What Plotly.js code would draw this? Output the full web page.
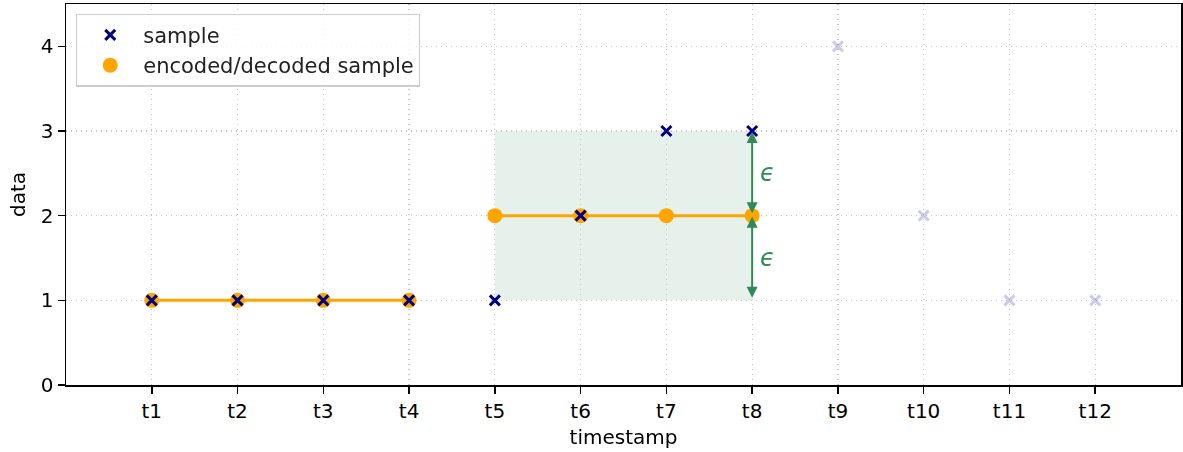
<!DOCTYPE html>
<html>
<head>
<meta charset="utf-8">
<script src="https://cdn.plot.ly/plotly-3.0.1.min.js"></script>
<style>html,body{margin:0;padding:0;background:#fff;}#chart{width:1183px;height:452px;}</style>
</head>
<body>
<div id="chart"></div>
<script>
const tickPositions = [1,2,3,4,5,6,7,8,9,10,11,12];
const tickLabels = ["t1","t2","t3","t4","t5","t6","t7","t8","t9","t10","t11","t12"];

const sampleX = [1,2,3,4,5,6,7,8];
const sampleY = [1,1,1,1,1,2,3,3];

const futureX = [9,10,11,12];
const futureY = [4,2,1,1];

const encodedX = [1,2,3,4,5,6,7,8];
const encodedY = [1,1,1,1,2,2,2,2];

const lineX = [1,2,3,4,null,5,6,7,8];
const lineY = [1,1,1,1,null,2,2,2,2];

const windowX = [5,8];
const windowY = [1,3];
const epsilonAt = 8;
const epsilonLevels = [3,2,1];

const font = "DejaVu Sans, sans-serif";
const green = "#2e8b57";

const traces = [
  {x: lineX, y: lineY, mode: "lines", line: {color: "orange", width: 3}, showlegend: false, hoverinfo: "skip", connectgaps: false},
  {x: encodedX, y: encodedY, mode: "markers", name: "encoded/decoded sample", legendrank: 2, legendgroup: "b",
   marker: {symbol: "circle", color: "orange", size: 15}},
  {x: sampleX, y: sampleY, mode: "markers", name: "sample", legendrank: 1, legendgroup: "a",
   marker: {symbol: "x-thin", color: "navy", size: 10, line: {color: "navy", width: 3}}},
  {x: futureX, y: futureY, mode: "markers", showlegend: false, opacity: 0.2,
   marker: {symbol: "x-thin", color: "navy", size: 10, line: {color: "navy", width: 3}}}
];

const annotations = [];
for (let i = 0; i < epsilonLevels.length - 1; i++) {
  annotations.push({
    x: epsilonAt, y: epsilonLevels[i], ax: epsilonAt, ay: epsilonLevels[i+1],
    xref: "x", yref: "y", axref: "x", ayref: "y",
    showarrow: true, arrowhead: 2, startarrowhead: 2, arrowside: "end+start",
    arrowsize: 1.1, startarrowsize: 1.1, arrowwidth: 2, arrowcolor: green, text: "",
    standoff: 1, startstandoff: 1
  });
  annotations.push({
    x: epsilonAt + 0.18, y: (epsilonLevels[i] + epsilonLevels[i+1]) / 2,
    xref: "x", yref: "y", showarrow: false, text: "ϵ",
    font: {family: font, size: 24, color: green, style: "italic"}
  });
}

const axisCommon = {
  showline: true, linecolor: "black", linewidth: 1.5, mirror: true,
  ticks: "outside", ticklen: 7, tickwidth: 1.5, tickcolor: "black",
  showgrid: true, gridcolor: "#c4c4c4", griddash: "1px,4px", gridwidth: 1.2,
  zeroline: false, tickfont: {family: font, size: 20, color: "black"}
};

const layout = {
  width: 1183, height: 452,
  margin: {l: 66, r: 2, t: 4, b: 67},
  paper_bgcolor: "white", plot_bgcolor: "white",
  font: {family: font, size: 20, color: "black"},
  xaxis: Object.assign({}, axisCommon, {
    range: [0, 13], tickvals: tickPositions, ticktext: tickLabels,
    title: {text: "timestamp", font: {family: font, size: 20}, standoff: 8}
  }),
  yaxis: Object.assign({}, axisCommon, {
    range: [0, 4.5], tickvals: [0,1,2,3,4],
    title: {text: "data", font: {family: font, size: 20}, standoff: 10}
  }),
  shapes: [{
    type: "rect", xref: "x", yref: "y",
    x0: windowX[0], x1: windowX[1], y0: windowY[0], y1: windowY[1],
    fillcolor: "rgba(46,139,87,0.12)", line: {width: 0}, layer: "below"
  }],
  annotations: annotations,
  legend: {
    x: 0.009, y: 0.975, xanchor: "left", yanchor: "top",
    bgcolor: "rgba(255,255,255,0.8)", bordercolor: "#cccccc", borderwidth: 1.2,
    font: {family: font, size: 21, color: "#222"}, tracegroupgap: 0, itemsizing: "trace",
    itemwidth: 56
  },
  showlegend: true
};

Plotly.newPlot("chart", traces, layout, {displayModeBar: false, staticPlot: true});
</script>
</body>
</html>
